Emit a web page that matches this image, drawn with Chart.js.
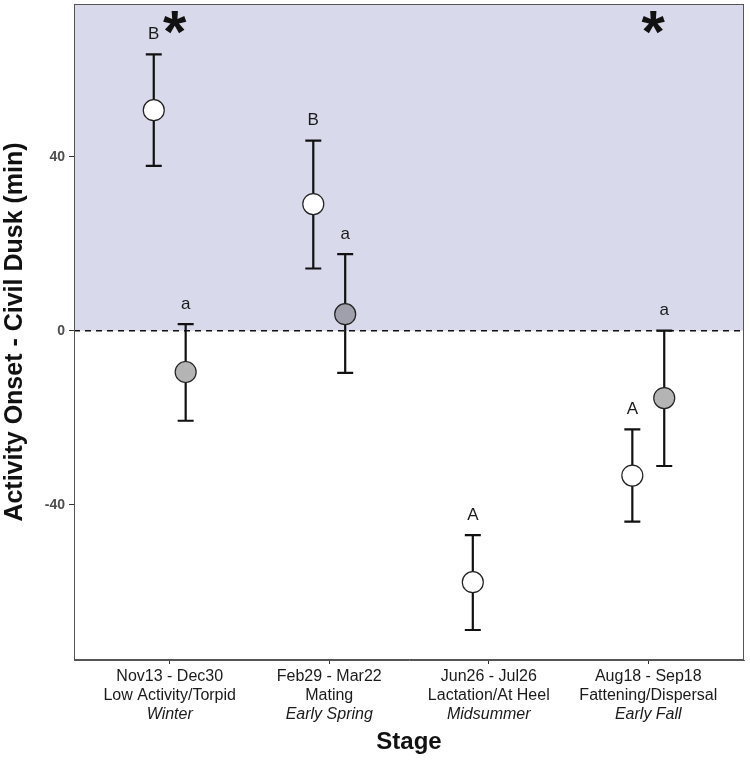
<!DOCTYPE html>
<html>
<head>
<meta charset="utf-8">
<script src="https://cdn.jsdelivr.net/npm/chart.js@4.4.1/dist/chart.umd.min.js"></script>
<style>
html,body{margin:0;padding:0;background:#fff;}
canvas{display:block;}
</style>
</head>
<body>
<canvas id="c" width="750" height="761"></canvas>
<script>
// ---- data ----
const stageDates   = ["Nov13 - Dec30", "Feb29 - Mar22", "Jun26 - Jul26", "Aug18 - Sep18"];
const stageNames   = ["Low Activity/Torpid", "Mating", "Lactation/At Heel", "Fattening/Dispersal"];
const stageSeasons = ["Winter", "Early Spring", "Midsummer", "Early Fall"];

const whiteMean  = [50.7, 29.1, -57.8, -33.3];
const whiteLower = [37.9, 14.3, -68.8, -43.9];
const whiteUpper = [63.5, 43.7, -47.0, -22.7];
const whiteLetters = ["B", "B", "A", "A"];

const grayMean  = [-9.5, 3.8, null, -15.5];
const grayLower = [-20.7, -9.7, null, -31.1];
const grayUpper = [1.5, 17.6, null, 0.0];
const grayLetters = ["a", "a", null, "a"];

const yTicks = [-40, 0, 40];
const sigStages = [0, 3];
const sigY = 71;

const DODGE = 0.1;
const FONT = "'Liberation Sans', Arial, Helvetica, sans-serif";

function pts(mean, off){
  const out = [];
  mean.forEach((v,i)=>{ if(v!==null) out.push({x:i+off, y:v, i:i}); });
  return out;
}

const bgPlugin = {
  id:'bg',
  beforeDatasetsDraw(chart){
    const {ctx, chartArea:a, scales:{x,y}} = chart;
    const y0 = y.getPixelForValue(0);
    ctx.save();
    ctx.fillStyle = '#d9d9ec';
    ctx.fillRect(a.left, a.top, a.right-a.left, y0-a.top);
    ctx.strokeStyle = '#111';
    ctx.lineWidth = 1.4;
    ctx.setLineDash([6,5]);
    ctx.beginPath();
    ctx.moveTo(a.left, y0); ctx.lineTo(a.right, y0);
    ctx.stroke();
    ctx.setLineDash([]);
    // error bars
    ctx.strokeStyle = '#111';
    ctx.lineWidth = 2.2;
    const bars = (mean, lo, hi, off) => {
      mean.forEach((m,i)=>{
        if(m===null) return;
        const px = x.getPixelForValue(i+off);
        const pl = y.getPixelForValue(lo[i]);
        const ph = y.getPixelForValue(hi[i]);
        ctx.beginPath();
        ctx.moveTo(px, pl); ctx.lineTo(px, ph);
        ctx.moveTo(px-8, pl); ctx.lineTo(px+8, pl);
        ctx.moveTo(px-8, ph); ctx.lineTo(px+8, ph);
        ctx.stroke();
      });
    };
    bars(whiteMean, whiteLower, whiteUpper, -DODGE);
    bars(grayMean, grayLower, grayUpper, DODGE);
    ctx.restore();
  },
  afterDraw(chart){
    const {ctx, chartArea:a, scales:{x,y}} = chart;
    ctx.save();
    // border
    ctx.strokeStyle = '#555';
    ctx.lineWidth = 1;
    ctx.strokeRect(a.left+0.5, a.top+0.5, a.right-a.left-1, a.bottom-a.top-1);
    // letters
    ctx.fillStyle = '#1a1a1a';
    ctx.font = '17px ' + FONT;
    ctx.textAlign = 'center';
    ctx.textBaseline = 'middle';
    const letters = (lets, hi, off) => {
      lets.forEach((t,i)=>{
        if(!t) return;
        const px = x.getPixelForValue(i+off);
        const ph = y.getPixelForValue(hi[i]);
        ctx.fillText(t, px, ph-20);
      });
    };
    letters(whiteLetters, whiteUpper, -DODGE);
    letters(grayLetters, grayUpper, DODGE);
    // asterisks
    ctx.fillStyle = '#111';
    const sz = 60;
    ctx.font = 'bold ' + sz + 'px ' + FONT;
    ctx.textBaseline = 'alphabetic';
    sigStages.forEach(i=>{
      const px = x.getPixelForValue(i) + 5;
      const py = y.getPixelForValue(sigY);
      ctx.fillText('*', px, py + 0.51*sz);
    });
    // x tick labels
    ctx.fillStyle = '#1a1a1a';
    ctx.textBaseline = 'middle';
    stageDates.forEach((d,i)=>{
      const px = x.getPixelForValue(i);
      ctx.font = '16px ' + FONT;
      ctx.fillText(d, px, a.bottom+17);
      ctx.fillText(stageNames[i], px, a.bottom+36);
      ctx.font = 'italic 16px ' + FONT;
      ctx.fillText(stageSeasons[i], px, a.bottom+55);
    });
    // x title
    ctx.fillStyle = '#111';
    ctx.font = 'bold 24px ' + FONT;
    ctx.fillText('Stage', (a.left+a.right)/2, 742);
    ctx.restore();
  }
};

new Chart(document.getElementById('c'), {
  type:'scatter',
  data:{
    datasets:[
      {
        label:'white',
        data: pts(whiteMean, -DODGE),
        backgroundColor:'#ffffff',
        borderColor:'#222',
        borderWidth:1.2,
        pointRadius:10.5,
        pointHoverRadius:10.5
      },
      {
        label:'gray',
        data: pts(grayMean, DODGE),
        backgroundColor: c => (c.raw && c.raw.y > 0) ? '#a0a0ac' : '#b4b4b4',
        borderColor:'#222',
        borderWidth:1.2,
        pointRadius:10.5,
        pointHoverRadius:10.5
      }
    ]
  },
  options:{
    responsive:false,
    devicePixelRatio:1,
    animation:false,
    layout:{autoPadding:false, padding:{top:4, right:6, left:0, bottom:0}},
    plugins:{legend:{display:false}, tooltip:{enabled:false}},
    scales:{
      x:{
        type:'linear',
        min:-0.6, max:3.6,
        afterBuildTicks: s => { s.ticks = [0,1,2,3].map(v=>({value:v})); },
        afterFit: s => { s.height = 101; s.paddingLeft = 0; s.paddingRight = 0; },
        ticks:{display:true, callback:()=> ''},
        grid:{display:true, drawOnChartArea:false, drawTicks:true, tickLength:4, color:'#333'},
        border:{display:true, color:'#555'}
      },
      y:{
        min:-75.7, max:75.1,
        afterBuildTicks: s => { s.ticks = yTicks.map(v=>({value:v})); },
        afterFit: s => { s.width = 74; s.paddingTop = 0; s.paddingBottom = 0; },
        ticks:{color:'#4d4d4d', font:{family:FONT, size:14, weight:'bold'}, padding:4},
        grid:{display:true, drawOnChartArea:false, drawTicks:true, tickLength:5, color:'#333'},
        border:{display:true, color:'#555'},
        title:{display:true, text:'Activity Onset - Civil Dusk (min)', color:'#111',
               font:{family:FONT, size:25, weight:'bold'}, padding:{top:0, bottom:0}}
      }
    }
  },
  plugins:[bgPlugin]
});
</script>
</body>
</html>
